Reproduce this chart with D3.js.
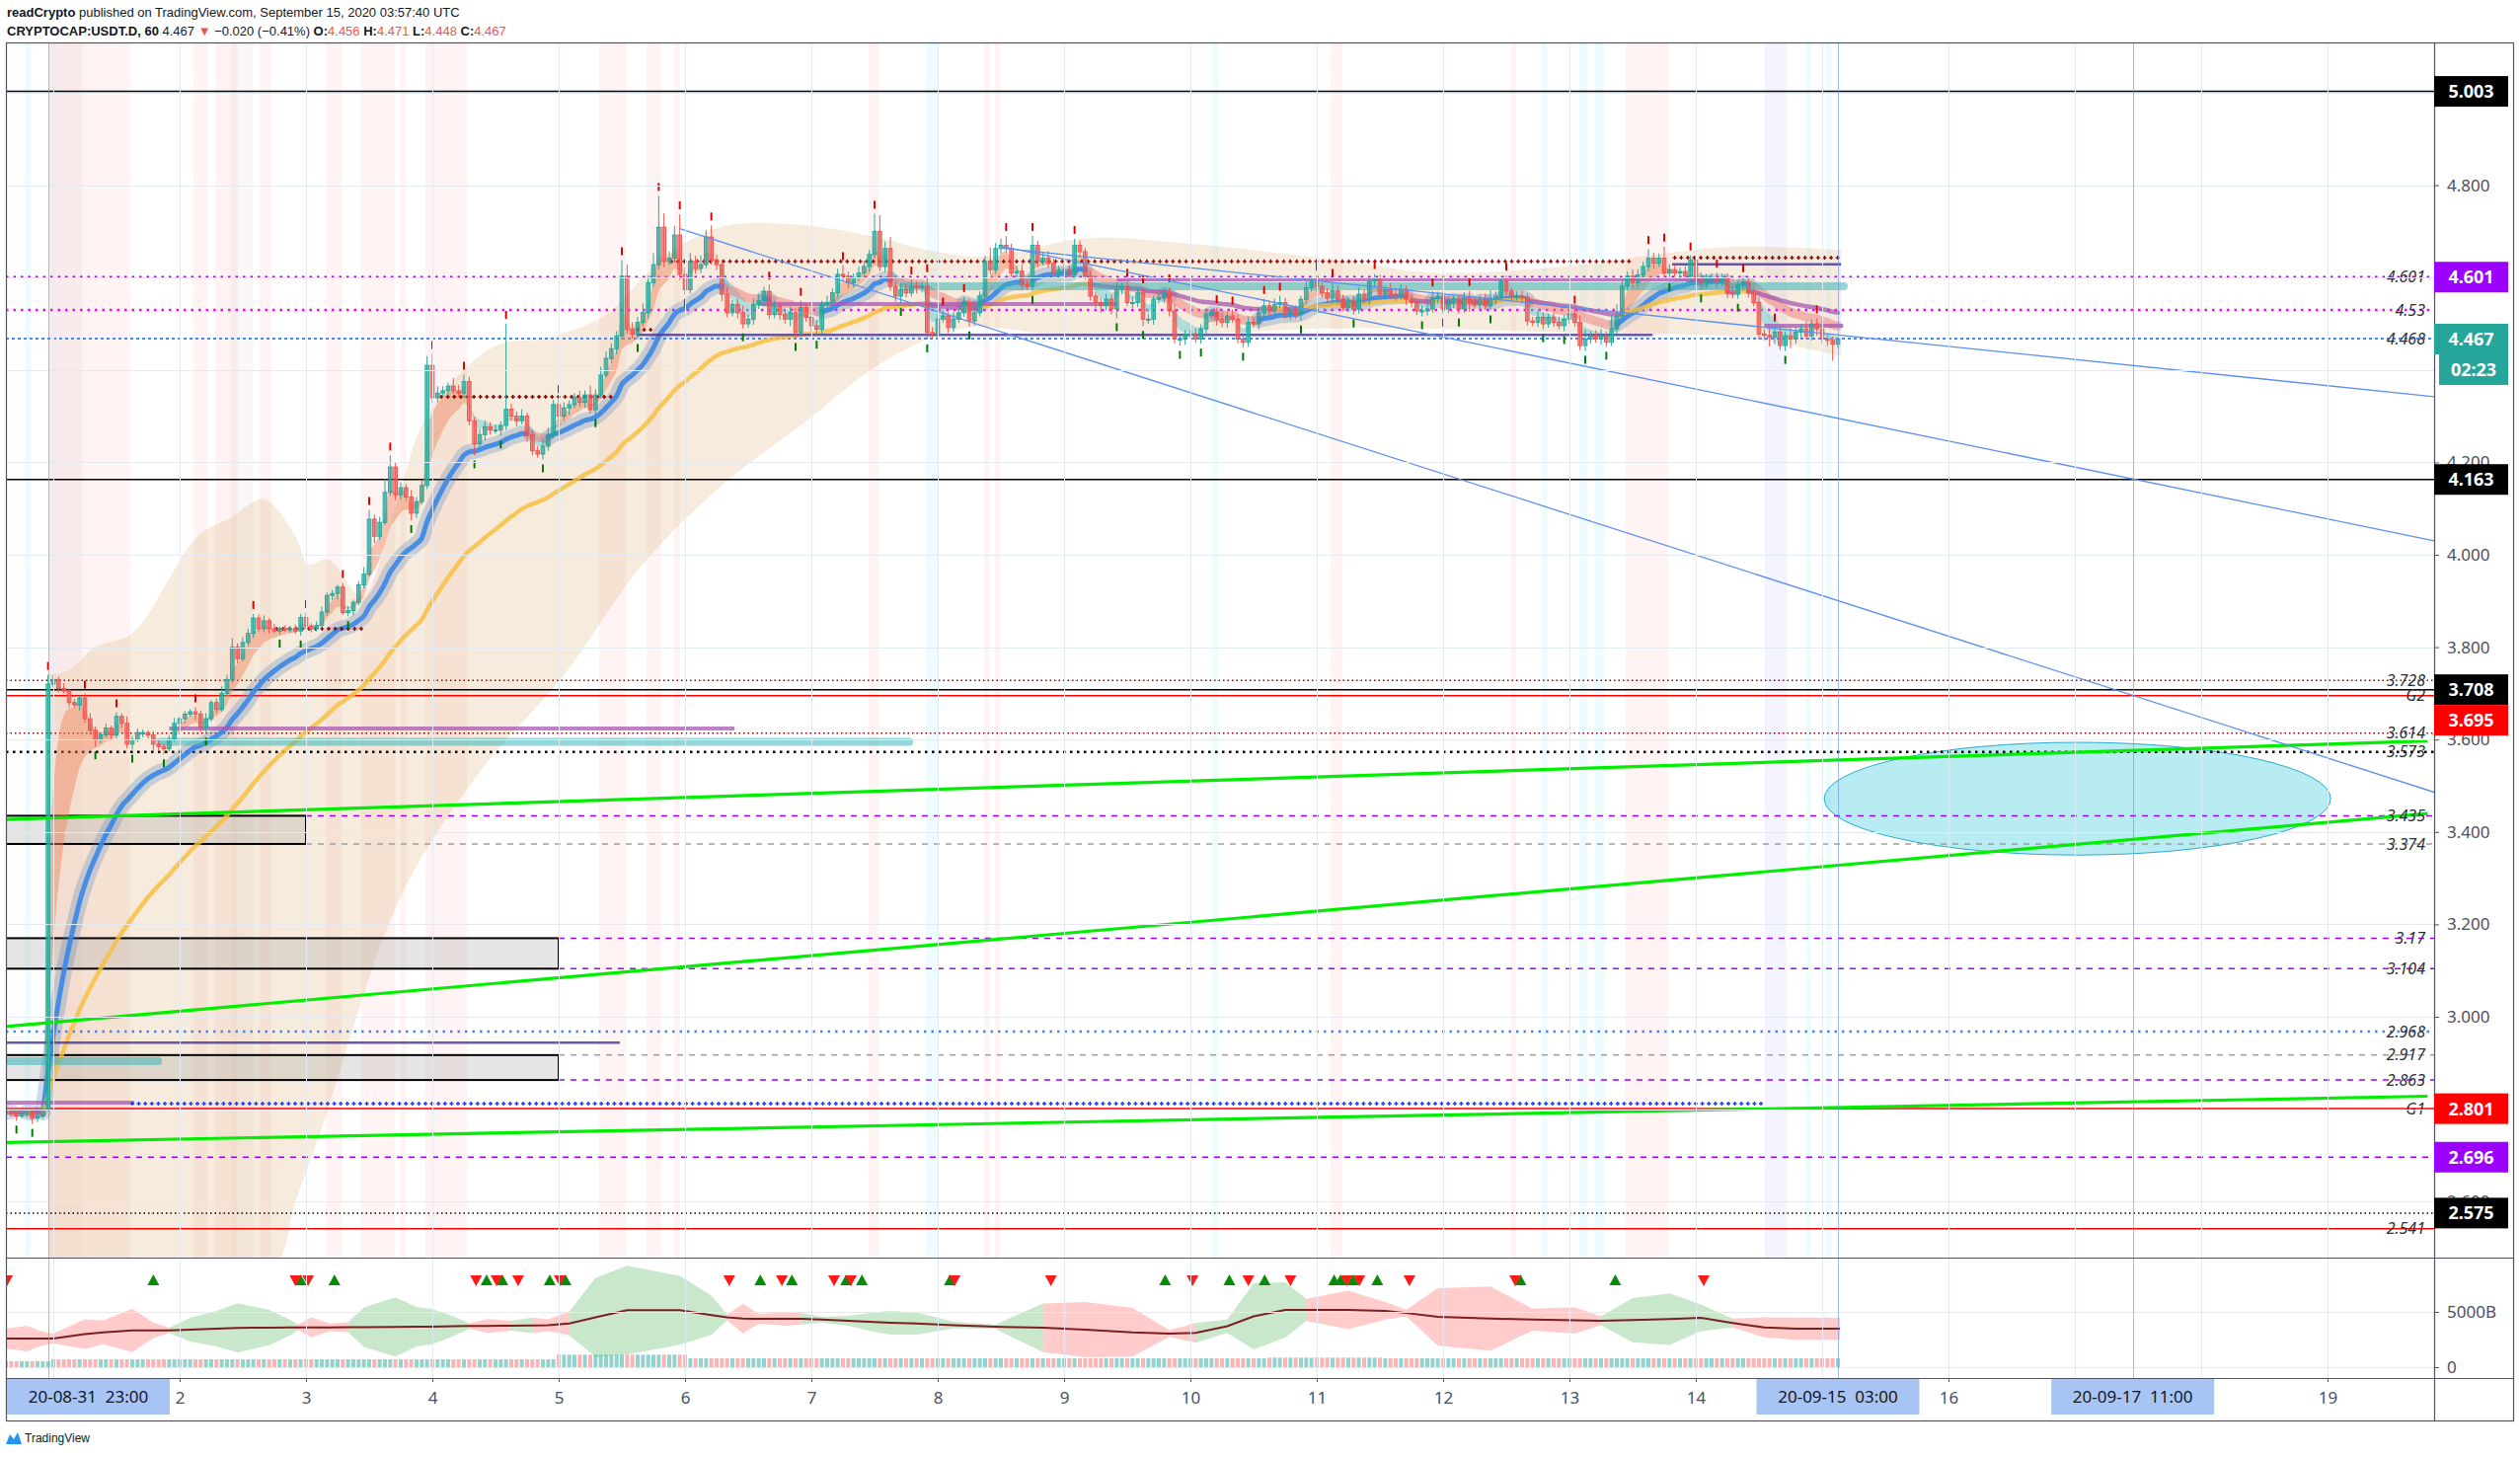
<!DOCTYPE html>
<html>
<head>
<meta charset="utf-8">
<script src="https://cdn.jsdelivr.net/npm/d3@7"></script>
<style>
html, body { margin: 0; padding: 0; background: #fff; }
svg { display: block; font-family: "Noto Sans", "Liberation Sans", sans-serif; }
</style>
</head>
<body>
<svg id="chart" width="2553" height="1476"></svg>
<script>
// ---- data (CRYPTOCAP:USDT.D, 60 min) ----
const startTime = Date.UTC(2020, 7, 31, 15); // first visible hourly bar
const firstOpen = 2.79;

const closes = [
  2.795, 2.79, 2.785, 2.79, 2.795, 2.78, 2.785, 2.80, 3.72,
  3.73, 3.71, 3.705, 3.68, 3.675, 3.69, 3.645,
  3.62, 3.60, 3.61, 3.625, 3.61, 3.65, 3.635, 3.59, 3.60, 3.615, 3.615, 3.61, 3.59, 3.585, 3.58, 3.60,
  3.635, 3.645, 3.655, 3.66, 3.655, 3.625, 3.645, 3.68, 3.665, 3.70, 3.73, 3.80, 3.775, 3.81, 3.83, 3.863,
  3.84, 3.857, 3.84, 3.835, 3.84, 3.838, 3.84, 3.835, 3.864, 3.846, 3.84, 3.847, 3.876, 3.912, 3.916, 3.93,
  3.875, 3.879, 3.897, 3.935, 3.958, 4.077, 4.04, 4.07, 4.135, 4.19, 4.13, 4.145, 4.125, 4.09, 4.115, 4.15,
  4.41, 4.34, 4.35, 4.355, 4.365, 4.355, 4.35, 4.375, 4.29, 4.24, 4.26, 4.277,
  4.27, 4.27, 4.28, 4.315, 4.30, 4.29, 4.30, 4.26, 4.225, 4.218, 4.235, 4.26, 4.325, 4.30, 4.318, 4.325,
  4.34, 4.33, 4.346, 4.314, 4.346, 4.389, 4.425, 4.446, 4.474, 4.603, 4.488, 4.477, 4.503, 4.524, 4.589, 4.628,
  4.709, 4.635, 4.642, 4.692, 4.607, 4.574, 4.635, 4.62, 4.628, 4.688, 4.638, 4.628, 4.564, 4.524, 4.542, 4.524,
  4.50, 4.51, 4.542, 4.55, 4.57, 4.52, 4.538, 4.52, 4.51, 4.524, 4.481, 4.535, 4.514, 4.496, 4.488, 4.542,
  4.546, 4.567, 4.607, 4.603, 4.589, 4.60, 4.61, 4.624, 4.65, 4.70, 4.624, 4.663, 4.581, 4.56, 4.574, 4.567,
  4.581, 4.578, 4.581, 4.481, 4.478, 4.51, 4.517, 4.492, 4.51, 4.524, 4.546, 4.506, 4.524, 4.56, 4.635, 4.617,
  4.663, 4.67, 4.663, 4.61, 4.614, 4.585, 4.581, 4.67, 4.635, 4.642, 4.631, 4.61, 4.617, 4.617, 4.607, 4.67, 4.656,
  4.603, 4.56, 4.546, 4.539, 4.553, 4.532, 4.574, 4.581, 4.546, 4.546, 4.567, 4.51, 4.51, 4.553, 4.556, 4.567,
  4.528, 4.467, 4.467, 4.478, 4.478, 4.467, 4.489, 4.521, 4.524, 4.51, 4.503, 4.517, 4.51, 4.467, 4.46, 4.503,
  4.50, 4.524, 4.539, 4.528, 4.542, 4.546, 4.521, 4.528, 4.521, 4.553, 4.578, 4.592, 4.581, 4.567, 4.556, 4.571,
  4.553, 4.535, 4.549, 4.532, 4.564, 4.553, 4.592, 4.596, 4.564, 4.574, 4.564, 4.56, 4.574, 4.553, 4.546, 4.528,
  4.528, 4.532, 4.556, 4.56, 4.532, 4.546, 4.553, 4.532, 4.556, 4.546, 4.542, 4.553, 4.539, 4.553, 4.56, 4.592,
  4.571, 4.56, 4.56, 4.556, 4.506, 4.503, 4.514, 4.50, 4.514, 4.503, 4.496, 4.51, 4.521, 4.503, 4.453, 4.467,
  4.474, 4.467, 4.474, 4.46, 4.489, 4.517, 4.581, 4.603, 4.589, 4.606, 4.624, 4.642, 4.631, 4.642, 4.61, 4.617,
  4.61, 4.613, 4.603, 4.638, 4.596, 4.589, 4.596, 4.599, 4.592, 4.599, 4.567, 4.564, 4.585, 4.589, 4.567, 4.546,
  4.478, 4.475, 4.471, 4.482, 4.453, 4.474, 4.467, 4.482, 4.489, 4.474, 4.50, 4.489, 4.467, 4.464, 4.456, 4.467
];

// wick lengths beyond the body, in thousandths
const wickUp = [
  5,4,6,3,5,8,4,5,20,10,6,12,5,8,6,10,12,8,6,10,5,9,7,15,
  6,9,7,5,8,10,6,9,12,5,7,6,10,8,12,6,9,15,10,20,8,12,10,9,
  8,12,6,10,5,7,6,9,8,10,6,9,12,6,8,5,9,10,6,8,15,20,10,12,
  30,25,10,12,8,15,10,12,20,25,15,10,8,18,12,15,10,8,12,14,10,12,9,185,
  12,10,15,8,9,10,12,15,10,14,12,9,10,15,10,20,12,18,15,12,10,35,25,15,
  12,20,15,25,68,30,15,20,45,15,18,12,20,15,25,12,10,14,9,12,15,10,12,14,
  10,15,12,10,8,12,10,15,10,9,12,8,15,10,12,20,10,9,14,12,10,38,35,15,
  25,10,14,12,15,10,9,20,12,10,12,8,15,10,12,9,14,10,12,30,12,15,20,10,
  12,15,10,20,10,12,15,10,9,12,10,14,10,8,12,10,9,12,10,15,8,10,12,9,
  10,12,8,9,10,12,15,10,8,9,12,10,10,8,10,12,9,14,10,8,12,10,9,15,
  10,12,15,10,9,12,8,14,10,12,9,10,20,12,10,8,12,15,10,9,12,10,8,14,
  10,12,9,10,8,12,10,14,9,10,12,8,10,12,15,10,9,12,20,10,9,12,8,10,
  12,10,9,14,10,8,10,12,9,10,12,15,20,10,12,14,10,30,25,12,10,15,12,10,
  20,12,10,25,12,10,9,12,10,8,15,12,10,12,9,10,14,8,12,10,9,12,10,15,
  12,10,9,20,12,10,15,9,12,20,10,8,4
];
const wickDown = [
  8,6,10,5,7,12,8,6,5,6,8,5,10,6,12,9,10,15,8,6,12,8,10,9,
  12,6,10,8,15,10,12,6,5,8,10,6,12,8,10,6,8,5,6,8,10,6,8,10,
  6,8,10,6,8,5,7,6,10,6,8,6,5,8,10,12,5,8,10,6,8,5,15,8,
  6,8,12,10,8,15,10,6,8,12,10,8,10,6,8,12,10,25,8,12,10,8,12,10,
  10,12,8,15,10,8,12,10,8,12,10,15,8,10,12,8,10,8,6,10,12,8,10,9,
  10,8,12,9,10,12,8,10,12,10,8,12,10,8,10,12,15,10,8,12,10,9,12,10,
  12,10,8,12,10,15,12,8,10,12,14,10,8,12,10,9,12,10,8,10,12,8,10,12,
  10,12,15,10,8,12,10,15,12,10,8,12,10,8,9,12,10,8,12,10,9,12,10,8,
  10,12,8,10,12,9,10,8,12,10,9,10,12,8,10,12,15,10,12,20,10,8,12,10,
  15,10,12,8,10,12,10,15,12,10,8,10,12,10,14,10,12,8,10,12,10,8,12,10,
  10,12,8,10,12,10,14,10,8,12,10,9,12,10,8,10,12,10,9,12,10,8,12,10,
  10,8,12,10,9,12,10,8,12,10,9,12,10,8,20,10,12,9,10,12,8,10,12,10,
  12,10,8,10,12,9,10,8,12,10,9,10,12,10,8,12,10,8,12,10,9,12,10,8,
  10,12,8,10,12,9,10,8,12,10,15,12,10,14,10,12,9,10,12,10,8,12,10,20,
  15,10,12,20,10,12,8,10,15,10,12,36,8
];

// horizontal levels drawn on the chart
const levelValues = [5.003, 4.601, 4.53, 4.468, 4.163, 3.728, 3.708, 3.695, 3.614, 3.573, 3.435, 3.374, 3.17, 3.104, 2.968, 2.917, 2.863, 2.801, 2.696, 2.575, 2.541];
const levelTexts  = ["", "4.601", "4.53", "4.468", "", "3.728", "", "G2", "3.614", "3.573", "3.435", "3.374", "3.17", "3.104", "2.968", "2.917", "2.863", "G1", "", "", "2.541"];
const levelFromH  = [-20, -20, -20, -20, -20, -20, -20, -20, -20, -20, 57, 57, 105, 105, -20, 105, 105, -20, -20, -20, -20];

// rectangles (start hour, end hour, top, bottom)
const boxes = [[-20, 57, 3.435, 3.374], [-20, 105, 3.17, 3.104], [-20, 105, 2.917, 2.863]];

// green support lines and blue trend lines [[hour, price], [hour, price]]
const greenLines = [[[0, 3.427], [460, 3.597]], [[0, 2.979], [460, 3.44]], [[0, 2.728], [460, 2.828]]];
const trendLines = [[[128, 4.706], [461.25, 3.486]], [[189, 4.668], [461.25, 4.03]], [[189, 4.664], [461.25, 4.342]]];

// target ellipse: centre hour/price, edge hour, bottom price
const ellipse = { h: 393.5, p: 3.472, hEdge: 441.6, pEdge: 3.35 };

// short horizontal drawings [fromHour, toHour, price]
const purpleSegs = [[143, 211, 4.543], [211, 326.6, 4.596], [334, 349, 4.496], [31, 138.4, 3.624], [-5, 24.4, 2.814]];
const darkPurpleSegs = [[-5, 116.6, 2.944], [119.8, 312.8, 4.476], [316.5, 348.6, 4.629]];
const tealSegs = [[-5, 28.9, 2.904], [29.4, 171.6, 3.595], [170.4, 349.1, 4.581]];
const pivotSegs = [[126.4, 308.6, 4.635], [317, 348.6, 4.643], [82.7, 115.5, 4.342], [51.4, 68.3, 3.84], [120, 123.6, 4.487]];
const bluePivotSegs = [[24, 334, 2.812]];

// band envelope around price
const cloudUpperH = [8, 12, 17, 24, 36.4, 42.6, 49, 55, 57.4, 61.3, 67.7, 73.9, 80, 92.6, 103, 114, 121, 127, 136, 150, 164.4, 175, 186, 205, 224, 253, 272, 301, 310, 329, 348.6];
const cloudUpperV = [3.74, 3.75, 3.80, 3.83, 4.04, 4.08, 4.12, 4.04, 3.98, 3.99, 3.91, 4.10, 4.30, 4.45, 4.47, 4.52, 4.60, 4.66, 4.71, 4.715, 4.69, 4.66, 4.645, 4.685, 4.674, 4.638, 4.61, 4.63, 4.645, 4.667, 4.66];
const cloudLowerH = [8, 50, 55, 60, 75, 90, 106, 121, 137, 151, 167, 182, 205, 253, 301, 330, 348.6];
const cloudLowerV = [2.45, 2.45, 2.6, 2.76, 3.26, 3.53, 3.74, 3.98, 4.16, 4.28, 4.42, 4.49, 4.47, 4.49, 4.48, 4.47, 4.43];

// background session shading [fromHour, toHour]
const pinkBands = [[8.2, 23.6], [35.6, 38.3], [39.7, 41.6], [41.6, 44], [48.2, 50.4], [60.8, 63.8], [67.5, 73.9], [75, 76], [79.7, 87.6], [112.7, 117.8], [121.7, 124.5], [127, 128], [163.9, 165.8], [185.8, 186.8], [187.9, 188.8], [251.6, 253.9], [285.9, 286.9], [307.7, 315.8]];
const greyBands = [[8.2, 14.5], [42.7, 47]];
const cyanBands = [[3.6, 4.7], [174.8, 177], [229.1, 230.3], [291.8, 292.7], [298.9, 300.4], [301.7, 303.6], [342, 342.9], [345.8, 346.7]];
const lavenderBands = [[334.1, 338.3]];

// lower pane: oscillator (hour, mid line, half width, +1 green / -1 red)
const oscH    = [0, 4, 6.5, 9, 15, 18.5, 24, 28, 31, 35, 40, 44, 50, 54, 55.5, 58, 61.5, 65, 68, 74, 78, 81, 85, 88, 91.5, 96, 100, 103, 107, 112, 118, 128, 134, 137, 140, 143, 148, 151, 155, 160, 165, 168, 173, 180, 188, 197, 205, 214, 221, 226, 232, 237, 243, 247, 255, 262, 266, 272, 282, 290, 298, 303, 309, 316, 322, 328, 334, 340, 348.4];
const oscMid  = [2590, 2590, 2590, 2590, 2990, 3150, 3330, 3330, 3330, 3400, 3480, 3560, 3580, 3590, 3590, 3600, 3600, 3610, 3620, 3640, 3660, 3670, 3700, 3720, 3730, 3750, 3780, 3800, 3960, 4500, 5150, 5150, 4700, 4500, 4400, 4375, 4375, 4375, 4300, 4200, 4080, 4020, 3950, 3800, 3650, 3570, 3400, 3150, 3040, 3100, 3700, 4600, 5180, 5180, 5180, 5100, 4900, 4550, 4400, 4300, 4230, 4200, 4260, 4350, 4460, 4000, 3600, 3480, 3480];
const oscAmp  = [890, 1160, 700, 450, 1340, 1070, 1960, 700, 250, 1070, 1600, 2230, 1600, 700, 250, 900, 350, 450, 1780, 2680, 1780, 1600, 890, 250, 620, 450, 700, 530, 1070, 3570, 4020, 3120, 1780, 250, 1340, 450, 620, 530, 250, 450, 890, 1070, 1000, 300, 200, 2200, 2500, 2200, 300, 900, 600, 3000, 2500, 1000, 1740, 800, 300, 2600, 2900, 1000, 1200, 400, 2000, 2330, 1200, 400, 900, 1000, 1000];
const oscSign = [-1, -1, -1, -1, -1, -1, -1, -1, 1, 1, 1, 1, 1, 1, -1, -1, -1, 1, 1, 1, 1, 1, 1, -1, -1, 1, -1, -1, 1, 1, 1, 1, 1, -1, -1, -1, -1, 1, 1, 1, 1, 1, 1, 1, 1, -1, -1, -1, -1, 1, 1, 1, 1, -1, -1, -1, -1, -1, -1, -1, -1, 1, 1, 1, 1, -1, -1, -1, -1];
const volSteps = [[0, 535], [9, 715], [105, 1130], [130, 800], [240, 860], [262, 800]];
const signalUpH = [28, 56, 62.4, 91.3, 94.3, 103.3, 106.3, 143.3, 149.3, 159.6, 162.6, 179.3, 220.2, 232.4, 239.1, 252.3, 253.5, 255.9, 260.5, 287.7, 305.7];
const signalDownH = [0.2, 55, 57.4, 89.3, 93.2, 97.3, 105.2, 137.4, 147.4, 157.3, 160.5, 180.2, 198.5, 225.4, 236, 244, 254.7, 257.1, 266.6, 286.7, 322.5];

// price tags on the right scale, and the marked times on the time scale
const tagValues = [5.003, 4.601, 4.467, 4.163, 3.708, 3.695, 2.801, 2.696, 2.575];
const markH = [8, 348, 404];

// ---- layout ----
const svg = d3.select("#chart");
const paneL = 6, paneR = 2466, mainTop = 43, mainBot = 1274, indBot = 1396, axisBot = 1439, outerR = 2546;
const HOUR = 3600e3;
const t = h => new Date(startTime + h * HOUR);
const x = d3.scaleUtc().domain([t(0), t(461.25)]).range([paneL, paneR]);
const y = d3.scaleLinear().domain([2.4786, 5.109]).range([mainBot, mainTop]);
const yi = d3.scaleLinear().domain([0, 5000]).range([1385, 1329]);
const xh = h => x(t(h));

svg.append("rect").attr("width", 2553).attr("height", 1476).attr("fill", "#fff");
const defs = svg.append("defs");
defs.append("clipPath").attr("id", "clipMain").append("rect")
  .attr("x", paneL).attr("y", mainTop).attr("width", paneR - paneL).attr("height", mainBot - mainTop);
defs.append("clipPath").attr("id", "clipInd").append("rect")
  .attr("x", paneL).attr("y", mainBot).attr("width", paneR - paneL).attr("height", indBot - mainBot);

const main = svg.append("g").attr("clip-path", "url(#clipMain)");
const ind = svg.append("g").attr("clip-path", "url(#clipInd)");

// bars
const bars = closes.map((c, i) => {
  const o = i ? closes[i - 1] : firstOpen;
  return { i, o, c, hi: Math.max(o, c) + wickUp[i] / 1000, lo: Math.min(o, c) - wickDown[i] / 1000 };
});

function ema(src, n) {
  const k = 2 / (n + 1);
  let prev = src[0];
  return src.map((v, i) => (prev = i ? v * k + prev * (1 - k) : v));
}
function runs(flags) {
  const out = [];
  let s = 0;
  for (let i = 1; i <= flags.length; i++) {
    if (i === flags.length || flags[i] !== flags[s]) {
      out.push({ from: s, to: Math.min(i, flags.length - 1), flag: flags[s] });
      s = i;
    }
  }
  return out;
}

// background shading
const bandGroups = [[pinkBands, "rgba(255,82,82,0.07)"], [greyBands, "rgba(150,120,120,0.06)"], [cyanBands, "rgba(0,229,255,0.07)"], [lavenderBands, "rgba(80,100,255,0.07)"]];
bandGroups.forEach(([list, col]) => {
  main.selectAll(null).data(list).enter().append("rect")
    .attr("x", d => xh(d[0])).attr("width", d => xh(d[1]) - xh(d[0]))
    .attr("y", mainTop).attr("height", mainBot - mainTop).attr("fill", col);
});

// grid
const priceTicks = d3.range(2.6, 5.01, 0.2);
const dayTicks = x.ticks(d3.utcDay.every(1));
const grid = svg.append("g").attr("stroke", "#e3eaf1").attr("stroke-width", 1);
grid.selectAll(null).data(priceTicks).enter().append("line")
  .attr("x1", paneL).attr("x2", paneR).attr("y1", d => Math.round(y(d)) + 0.5).attr("y2", d => Math.round(y(d)) + 0.5);
grid.selectAll(null).data(dayTicks).enter().append("line")
  .attr("x1", d => Math.round(x(d)) + 0.5).attr("x2", d => Math.round(x(d)) + 0.5).attr("y1", mainTop).attr("y2", indBot);
grid.selectAll(null).data([0, 5000]).enter().append("line")
  .attr("x1", paneL).attr("x2", paneR).attr("y1", d => Math.round(yi(d)) + 0.5).attr("y2", d => Math.round(yi(d)) + 0.5);

// envelope cloud
const curve = d3.line().curve(d3.curveCatmullRom);
const upPts = cloudUpperH.map((h, i) => [xh(h), y(cloudUpperV[i])]);
const loPts = cloudLowerH.map((h, i) => [xh(h), y(cloudLowerV[i])]).reverse();
main.append("path").attr("d", curve(upPts) + "L" + curve(loPts).slice(1) + "Z")
  .attr("fill", "rgba(225,190,140,0.3)");

// ellipse target
main.append("ellipse")
  .attr("cx", xh(ellipse.h)).attr("cy", y(ellipse.p))
  .attr("rx", xh(ellipse.hEdge) - xh(ellipse.h)).attr("ry", y(ellipse.pEdge) - y(ellipse.p))
  .attr("fill", "rgba(0,188,212,0.28)").attr("stroke", "rgba(0,150,200,0.8)").attr("stroke-width", 1);

// rectangles
main.selectAll(null).data(boxes).enter().append("rect")
  .attr("x", d => xh(d[0])).attr("width", d => xh(d[1]) - xh(d[0]))
  .attr("y", d => y(d[2])).attr("height", d => y(d[3]) - y(d[2]))
  .attr("fill", "rgba(170,170,170,0.3)").attr("stroke", "#000").attr("stroke-width", 2);

// level lines
const styles = {
  black: ["#000", 1.5, null], red: ["#ff0000", 1.5, null],
  purpleDot: ["#9c00ff", 2.5, "2.5,5"], magentaDot: ["#ff00ff", 2.5, "2.5,5"],
  blueDot: ["#4a86e8", 2, "3,3"], darkredDot: ["#8b0000", 1.5, "1.5,3"],
  blackDot: ["#000", 2.5, "2.5,4.5"], purpleDash: ["#a000ff", 1.5, "6,6"],
  greyDash: ["#9e9e9e", 1.5, "6,6"], blueDotThick: ["#4a86e8", 2.5, "2.5,5"],
  blackDotThin: ["#000", 1.5, "1.5,3"]
};
const levelStyle = ["black", "purpleDot", "magentaDot", "blueDot", "black", "darkredDot", "black", "red", "darkredDot", "blackDot", "purpleDash", "greyDash", "purpleDash", "purpleDash", "blueDotThick", "greyDash", "purpleDash", "red", "purpleDash", "blackDotThin", "red"];
main.selectAll(null).data(levelValues).enter().append("line")
  .attr("x1", (d, i) => Math.max(paneL, xh(levelFromH[i]))).attr("x2", paneR)
  .attr("y1", d => y(d)).attr("y2", d => y(d))
  .attr("stroke", (d, i) => styles[levelStyle[i]][0])
  .attr("stroke-width", (d, i) => styles[levelStyle[i]][1])
  .attr("stroke-dasharray", (d, i) => styles[levelStyle[i]][2]);

// moving averages
const ema3 = ema(closes, 3), ema8 = ema(closes, 8), ema20 = ema(closes, 20), ema50 = ema(closes, 50);
const bx = i => xh(i);
runs(ema3.map((v, i) => v >= ema8[i])).forEach(r => {
  const idx = d3.range(r.from, r.to + 1);
  main.append("path")
    .attr("d", d3.area().x(i => bx(i)).y0(i => y(ema8[i])).y1(i => y(ema3[i])).curve(d3.curveMonotoneX)(idx))
    .attr("fill", r.flag ? "rgba(240,130,90,0.45)" : "rgba(90,205,215,0.45)");
});
const lineI = arr => d3.line().x(i => bx(i)).y(i => y(arr[i])).curve(d3.curveMonotoneX);
const rise20 = ema20.map((v, i) => i === 0 || v >= ema20[i - 1]);
runs(rise20).forEach(r => {
  const idx = d3.range(r.from, r.to + 1);
  main.append("path").attr("d", lineI(ema20)(idx)).attr("fill", "none")
    .attr("stroke", r.flag ? "rgba(80,130,190,0.28)" : "rgba(240,110,110,0.45)")
    .attr("stroke-width", r.flag ? 16 : 9).attr("stroke-linecap", "round");
});
runs(rise20).filter(r => r.flag).forEach(r => {
  const idx = d3.range(r.from, r.to + 1);
  main.append("path").attr("d", lineI(ema20)(idx)).attr("fill", "none")
    .attr("stroke", "rgba(58,135,230,0.9)").attr("stroke-width", 5).attr("stroke-linecap", "round");
});
const rise50 = ema50.map((v, i) => i === 0 || v >= ema50[i - 1]);
runs(rise50).forEach(r => {
  const idx = d3.range(r.from, r.to + 1);
  main.append("path").attr("d", lineI(ema50)(idx)).attr("fill", "none")
    .attr("stroke", r.flag ? "rgba(247,190,60,0.8)" : "rgba(160,80,170,0.7)")
    .attr("stroke-width", 4.5).attr("stroke-linecap", "round");
});

// horizontal drawings
const seg = (list, col, w, cap) => main.selectAll(null).data(list).enter().append("line")
  .attr("x1", d => xh(d[0])).attr("x2", d => xh(d[1])).attr("y1", d => y(d[2])).attr("y2", d => y(d[2]))
  .attr("stroke", col).attr("stroke-width", w).attr("stroke-linecap", cap);
seg(tealSegs, "rgba(60,180,185,0.55)", 8, "round");
seg(purpleSegs, "rgba(170,85,180,0.75)", 4, "butt");
seg(darkPurpleSegs, "rgba(80,60,150,0.85)", 2.5, "butt");
function plusPath(d) {
  const x0 = xh(d[0]), x1 = xh(d[1]), yy = y(d[2]);
  let s = "";
  for (let xx = x0; xx <= x1; xx += 6.6) s += `M${xx - 2},${yy}h4M${xx},${yy - 2}v4`;
  return s;
}
main.selectAll(null).data(pivotSegs).enter().append("path").attr("d", plusPath)
  .attr("stroke", "#8b0000").attr("stroke-width", 1.4).attr("fill", "none");
main.selectAll(null).data(bluePivotSegs).enter().append("path").attr("d", plusPath)
  .attr("stroke", "#1a3cff").attr("stroke-width", 1.4).attr("fill", "none");

// candles
const cw = 3.6;
const candle = main.append("g").selectAll("g").data(bars).enter().append("g");
candle.append("line")
  .attr("x1", d => bx(d.i)).attr("x2", d => bx(d.i)).attr("y1", d => y(d.hi)).attr("y2", d => y(d.lo))
  .attr("stroke", d => d.c >= d.o ? "#26a69a" : "#ef5350").attr("stroke-width", 1);
candle.append("rect")
  .attr("x", d => bx(d.i) - cw / 2).attr("width", cw)
  .attr("y", d => y(Math.max(d.o, d.c))).attr("height", d => Math.max(1, Math.abs(y(d.o) - y(d.c))))
  .attr("fill", d => d.c >= d.o ? "rgba(38,166,154,0.55)" : "rgba(239,83,80,0.55)")
  .attr("stroke", d => d.c >= d.o ? "#26a69a" : "#ef5350").attr("stroke-width", 1);

// fractal marks
const fr = [];
for (let i = 2; i < bars.length - 2; i++) {
  const b = bars[i];
  if (b.hi > bars[i - 1].hi && b.hi > bars[i - 2].hi && b.hi >= bars[i + 1].hi && b.hi >= bars[i + 2].hi) fr.push({ i, up: true, v: b.hi });
  if (b.lo < bars[i - 1].lo && b.lo < bars[i - 2].lo && b.lo <= bars[i + 1].lo && b.lo <= bars[i + 2].lo) fr.push({ i, up: false, v: b.lo });
}
main.selectAll(null).data(fr).enter().append("line")
  .attr("x1", d => bx(d.i)).attr("x2", d => bx(d.i))
  .attr("y1", d => d.up ? y(d.v) - 13 : y(d.v) + 5).attr("y2", d => d.up ? y(d.v) - 5 : y(d.v) + 13)
  .attr("stroke", d => d.up ? "#e00000" : "#007a00").attr("stroke-width", 2);

// sloped lines
main.selectAll(null).data(greenLines).enter().append("line")
  .attr("x1", d => xh(d[0][0])).attr("y1", d => y(d[0][1])).attr("x2", d => xh(d[1][0])).attr("y2", d => y(d[1][1]))
  .attr("stroke", "#00ee00").attr("stroke-width", 3.2);
main.selectAll(null).data(trendLines).enter().append("line")
  .attr("x1", d => xh(d[0][0])).attr("y1", d => y(d[0][1])).attr("x2", d => xh(d[1][0])).attr("y2", d => y(d[1][1]))
  .attr("stroke", "#5b8ff0").attr("stroke-width", 1.3);

// level labels
main.selectAll(null).data(levelValues.map((v, i) => [v, levelTexts[i]]).filter(d => d[1])).enter().append("text")
  .attr("x", 2457).attr("y", d => y(d[0])).attr("dy", "0.35em").attr("text-anchor", "end")
  .attr("font-style", "italic").attr("font-size", 16).attr("fill", "#2a2e39").text(d => d[1]);

// highlighted times
svg.selectAll(null).data(markH).enter().append("line")
  .attr("x1", d => Math.round(xh(d)) + 0.5).attr("x2", d => Math.round(xh(d)) + 0.5).attr("y1", mainTop).attr("y2", indBot)
  .attr("stroke", "rgba(110,150,245,0.65)").attr("stroke-width", 1);

// ---- lower pane ----
const volAt = i => { let v = volSteps[0][1]; volSteps.forEach(s => { if (i >= s[0]) v = s[1]; }); return v; };
ind.selectAll(null).data(bars).enter().append("rect")
  .attr("x", d => bx(d.i) - 2).attr("width", 4)
  .attr("y", d => yi(volAt(d.i))).attr("height", d => yi(0) - yi(volAt(d.i)))
  .attr("fill", d => d.c >= d.o ? "#92d3cd" : "#f8b4b4");
const oscPts = oscH.map((h, i) => ({ h, m: oscMid[i], a: oscAmp[i], s: oscSign[i] }));
runs(oscSign.map(s => s > 0)).forEach(r => {
  const pts = oscPts.slice(r.from, r.to + 1);
  ind.append("path")
    .attr("d", d3.area().x(p => xh(p.h)).y0(p => yi(p.m - p.a)).y1(p => yi(p.m + p.a)).curve(d3.curveLinear)(pts))
    .attr("fill", r.flag ? "rgba(76,175,80,0.3)" : "rgba(255,82,82,0.3)");
});
ind.append("path").attr("d", d3.line().x(p => xh(p.h)).y(p => yi(p.m))(oscPts))
  .attr("fill", "none").attr("stroke", "#7b1f1f").attr("stroke-width", 2);
const triY = 1297;
ind.selectAll(null).data(signalUpH).enter().append("path")
  .attr("d", h => `M${xh(h)},${triY - 6}l6,11h-12z`).attr("fill", "#0a8a0a");
ind.selectAll(null).data(signalDownH).enter().append("path")
  .attr("d", h => `M${xh(h)},${triY + 6}l6,-11h-12z`).attr("fill", "#ff1a1a");

// ---- frames ----
const frame = svg.append("g").attr("stroke", "#50535e").attr("stroke-width", 1.2).attr("fill", "none");
frame.append("rect").attr("x", paneL + 0.5).attr("y", mainTop + 0.5).attr("width", outerR - paneL).attr("height", axisBot - mainTop);
[mainBot, indBot].forEach(v => frame.append("line").attr("x1", paneL).attr("x2", outerR).attr("y1", v + 0.5).attr("y2", v + 0.5));
frame.append("line").attr("x1", paneR + 0.5).attr("x2", paneR + 0.5).attr("y1", mainTop).attr("y2", axisBot);

// ---- price tags: stack them so they never overlap ----
const tagColors = ["#000", "#9c00ff", "#26a69a", "#000", "#000", "#ff0000", "#ff0000", "#9c00ff", "#000"];
const tagH = 31;
let lastBottom = -1e9;
const tagBoxes = [];
tagValues.map((v, i) => ({ v, c: tagColors[i] })).sort((a, b) => b.v - a.v).forEach(tg => {
  const top = Math.max(y(tg.v) - tagH / 2, lastBottom);
  tagBoxes.push({ top, bottom: top + tagH, v: tg.v, c: tg.c, timer: tg.v === 4.467 });
  lastBottom = top + tagH + (tg.v === 4.467 ? tagH : 0);
});
// tick labels hidden behind a tag are dropped, as on the original scale
const hiddenTick = v => tagBoxes.some(b => y(v) > b.top + 4 && y(v) < b.bottom + (b.timer ? tagH : 0) - 4);

// ---- price axis ----
const axisFont = g => g.selectAll("text").attr("font-size", 17).attr("fill", "#4c5060").attr("font-family", "Noto Sans, sans-serif");
const pAxis = svg.append("g").attr("transform", `translate(${paneR},0)`)
  .call(d3.axisRight(y).tickValues(priceTicks.filter(v => !hiddenTick(v))).tickFormat(d3.format(".3f")).tickSize(5).tickPadding(8));
pAxis.select(".domain").remove();
pAxis.selectAll("line").attr("stroke", "#50535e");
axisFont(pAxis);
const iAxis = svg.append("g").attr("transform", `translate(${paneR},0)`)
  .call(d3.axisRight(yi).tickValues([0, 5000]).tickFormat(d => d ? d + "B" : "0").tickSize(5).tickPadding(8));
iAxis.select(".domain").remove();
iAxis.selectAll("line").attr("stroke", "#50535e");
axisFont(iAxis);

tagBoxes.forEach(b => {
  const g = svg.append("g");
  g.append("rect").attr("x", paneR).attr("y", b.top).attr("width", 75).attr("height", tagH).attr("fill", b.c);
  g.append("text").attr("x", paneR + 37.5).attr("y", b.top + tagH / 2).attr("dy", "0.36em").attr("text-anchor", "middle")
    .attr("font-size", 18).attr("font-weight", "bold").attr("fill", "#fff").text(d3.format(".3f")(b.v));
  if (b.timer) {
    g.append("rect").attr("x", paneR + 5).attr("y", b.bottom).attr("width", 70).attr("height", tagH).attr("fill", b.c);
    g.append("text").attr("x", paneR + 40).attr("y", b.bottom + tagH / 2).attr("dy", "0.36em").attr("text-anchor", "middle")
      .attr("font-size", 18).attr("font-weight", "bold").attr("fill", "#fff").text("02:23");
  }
});

// ---- time axis ----
const markW = 165;
const markX = markH.map(h => Math.max(paneL + 1 + markW / 2, xh(h)));
const dayShown = dayTicks.filter(d => !markX.some(cx => Math.abs(x(d) - cx) < markW / 2));
const tAxis = svg.append("g").attr("transform", `translate(0,${indBot})`)
  .call(d3.axisBottom(x).tickValues(dayShown).tickFormat(d => d.getUTCDate()).tickSize(4).tickPadding(10));
tAxis.select(".domain").remove();
tAxis.selectAll("line").attr("stroke", "#50535e");
axisFont(tAxis);
const fmt = d3.utcFormat("%y-%m-%d  %H:%M");
markH.forEach((h, k) => {
  const cx = markX[k];
  svg.append("rect").attr("x", cx - markW / 2).attr("y", indBot + 1).attr("width", markW).attr("height", 36).attr("fill", "#a8c4f4");
  svg.append("text").attr("x", cx).attr("y", indBot + 19).attr("dy", "0.35em").attr("text-anchor", "middle")
    .attr("font-size", 17).attr("fill", "#131722").style("white-space", "pre").text(fmt(t(h)));
});

// ---- header ----
const head = svg.append("g").attr("font-family", "Liberation Sans, Arial, sans-serif").attr("font-size", 13).attr("fill", "#131722");
const l1 = head.append("text").attr("x", 7).attr("y", 17);
l1.append("tspan").attr("font-weight", "bold").text("readCrypto");
l1.append("tspan").text(" published on TradingView.com, September 15, 2020 03:57:40 UTC");
const l2 = head.append("text").attr("x", 7).attr("y", 36);
l2.append("tspan").attr("font-weight", "bold").text("CRYPTOCAP:USDT.D, 60");
l2.append("tspan").text(" 4.467 ");
l2.append("tspan").attr("fill", "#ef5350").text("▼");
l2.append("tspan").text(" \u22120.020 (\u22120.41%) ");
[["O:", "4.456"], ["H:", "4.471"], ["L:", "4.448"], ["C:", "4.467"]].forEach(([k, v]) => {
  l2.append("tspan").attr("font-weight", "bold").text(k);
  l2.append("tspan").attr("fill", "#ef5350").text(v + " ");
});

// ---- footer logo ----
const logo = svg.append("g").attr("transform", "translate(6,1449)");
logo.append("path").attr("d", "M0,14 L4,4 L8,9 L12,2 L16,14 Z").attr("fill", "#2196f3");
logo.append("text").attr("x", 19).attr("y", 12).attr("font-family", "Liberation Sans, Arial, sans-serif")
  .attr("font-size", 12).attr("fill", "#131722").text("TradingView");
</script>
</body>
</html>
